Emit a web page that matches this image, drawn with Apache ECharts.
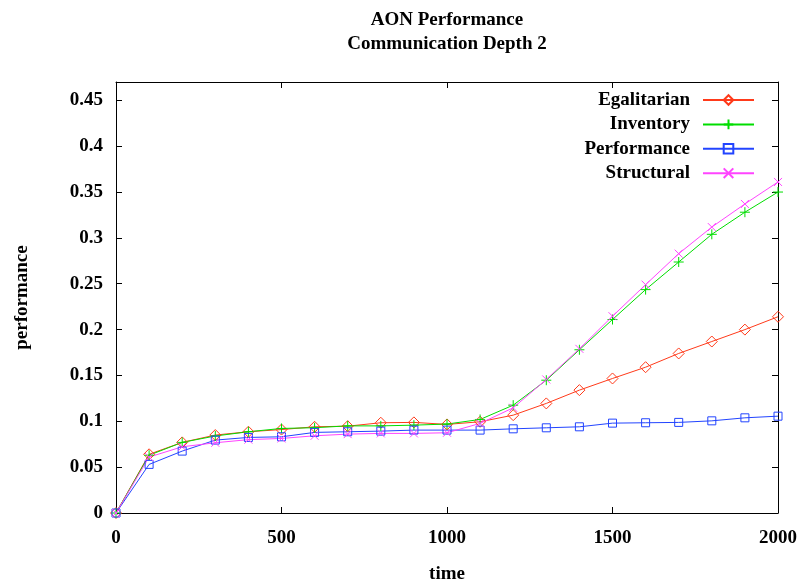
<!DOCTYPE html>
<html>
<head>
<meta charset="utf-8">
<script src="https://cdn.jsdelivr.net/npm/echarts@6/dist/echarts.min.js"></script>
<style>html,body{margin:0;padding:0;background:#fff;}#c{width:799px;height:583px;}</style>
</head>
<body>
<div id="c"></div>
<script>
const times = [0,100,200,300,400,500,600,700,800,900,1000,1100,1200,1300,1400,1500,1600,1700,1800,1900,2000];
const egalitarian = [0,0.064,0.077,0.085,0.0886,0.091,0.094,0.0947,0.0984,0.0988,0.0966,0.0995,0.1067,0.1195,0.134,0.1467,0.159,0.174,0.187,0.200,0.214];
const inventory = [0,0.063,0.077,0.084,0.0886,0.0922,0.093,0.095,0.095,0.0958,0.097,0.102,0.1176,0.1448,0.178,0.211,0.2436,0.2737,0.3039,0.328,0.350];
const performance = [0,0.053,0.0675,0.0795,0.0824,0.0831,0.0879,0.0886,0.0893,0.0904,0.0904,0.0904,0.0918,0.0929,0.094,0.098,0.0984,0.0988,0.1005,0.1038,0.1056];
const structural = [0,0.061,0.0722,0.0766,0.080,0.0813,0.0842,0.086,0.0868,0.0868,0.0875,0.0977,0.1147,0.1456,0.179,0.2146,0.249,0.2828,0.3118,0.337,0.361];
const seriesNames = ['Egalitarian','Inventory','Performance','Structural'];
const xTicks = [0,500,1000,1500,2000];
const yTicks = [0,0.05,0.1,0.15,0.2,0.25,0.3,0.35,0.4,0.45];

const FONT = 'Liberation Serif';
const colors = ['#ff3a1a','#00dd00','#2244ff','#ff44ff'];
const symbols = ['diamond','path://M5,0 L5,10 M0,5 L10,5','rect','path://M0,0 L10,10 M10,0 L0,10'];
const symSizes = [11,10,8,8];
const values = [egalitarian, inventory, performance, structural];

function pairs(arr){ return times.map((t,i)=>[t,arr[i]]); }
function isTick(v, list){ return list.some(t => Math.abs(t - v) < 1e-9); }

const series = seriesNames.map((name,i)=>({
  name: name,
  type: 'line',
  data: pairs(values[i]),
  symbol: symbols[i],
  symbolSize: symSizes[i],
  showAllSymbol: true,
  color: colors[i],
  lineStyle: {color: colors[i], width: 1},
  itemStyle: {color: (i===0||i===2) ? 'rgba(255,255,255,0)' : colors[i], borderColor: colors[i], borderWidth: 1},
  emphasis: {disabled: true},
  animation: false
}));

const labelStyle = {fontFamily: FONT, fontWeight: 'bold', fontSize: 19, color: '#000'};
const axisLineStyle = {show: true, onZero: false, lineStyle: {color: '#000', width: 1}};
const tickStyle = {show: true, inside: true, length: 6, lineStyle: {color: '#000', width: 1}};

const option = {
  animation: false,
  backgroundColor: '#fff',
  title: {
    text: 'AON Performance\nCommunication Depth 2',
    left: 442,
    textAlign: 'center',
    top: 3,
    textStyle: {fontFamily: FONT, fontWeight: 'bold', fontSize: 19, color: '#000', lineHeight: 24}
  },
  grid: {left: 116, right: 21, top: 82, bottom: 70, containLabel: false, outerBoundsMode: 'none'},
  legend: {
    orient: 'vertical',
    right: 39,
    top: 85,
    align: 'right',
    itemWidth: 51,
    itemHeight: 12,
    itemGap: 4.4,
    data: seriesNames,
    textStyle: {fontFamily: FONT, fontWeight: 'bold', fontSize: 19, color: '#000', lineHeight: 20, padding: [0, 8, 0, 0]},
    selectedMode: false
  },
  xAxis: [{
    type: 'value', min: 0, max: 2000, interval: 500, position: 'bottom',
    name: 'time', nameLocation: 'middle', nameGap: 52,
    nameTextStyle: labelStyle,
    axisLine: axisLineStyle, axisTick: tickStyle,
    axisLabel: Object.assign({margin: 16, formatter: v => isTick(v, xTicks) ? String(v) : ''}, labelStyle),
    splitLine: {show: false}
  },{
    type: 'value', min: 0, max: 2000, interval: 500, position: 'top',
    axisLine: axisLineStyle, axisTick: tickStyle, axisLabel: {show: false}, splitLine: {show: false}
  }],
  yAxis: [{
    type: 'value', min: 0, max: 0.47, interval: 0.05, position: 'left',
    name: 'performance', nameLocation: 'middle', nameGap: 84, nameRotate: 90,
    nameTextStyle: labelStyle,
    axisLine: axisLineStyle, axisTick: tickStyle,
    axisLabel: Object.assign({margin: 13, showMaxLabel: false, formatter: v => isTick(v, yTicks) ? String(+v.toFixed(2)) : ''}, labelStyle),
    splitLine: {show: false}
  },{
    type: 'value', min: 0, max: 0.47, interval: 0.05, position: 'right',
    axisLine: axisLineStyle, axisTick: tickStyle, axisLabel: {show: false}, splitLine: {show: false}
  }],
  series: series
};

const chart = echarts.init(document.getElementById('c'), null, {renderer: 'canvas'});
chart.setOption(option);
</script>
</body>
</html>
